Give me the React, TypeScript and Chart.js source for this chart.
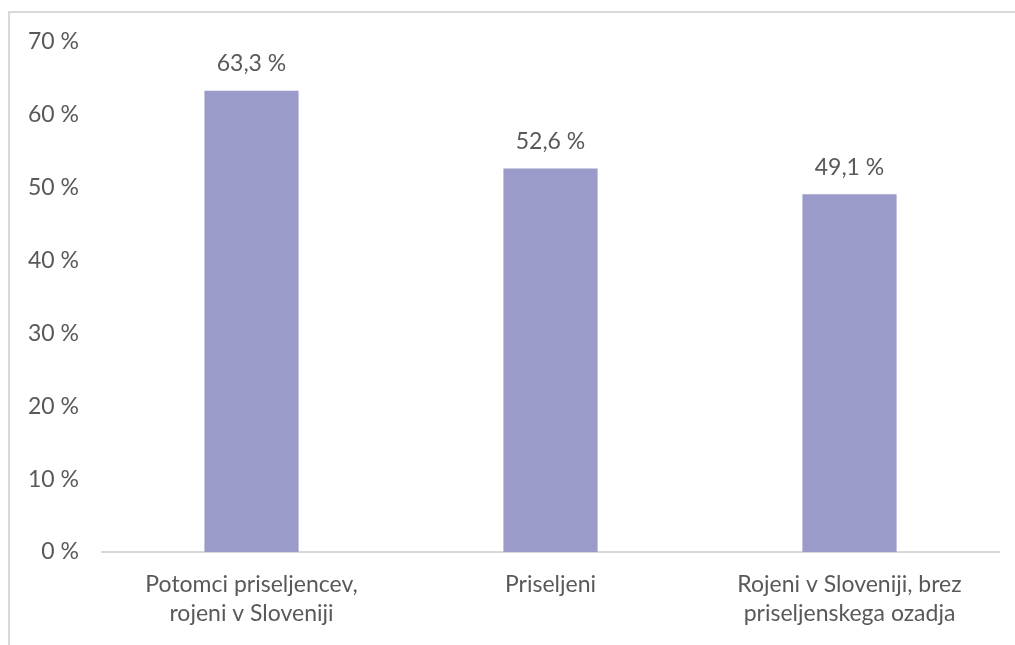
import React, { useEffect, useRef } from "react";
import { Chart, registerables } from "chart.js";

Chart.register(...registerables);

const categories: string[][] = [
  ["Potomci priseljencev,", "rojeni v Sloveniji"],
  ["Priseljeni"],
  ["Rojeni v Sloveniji, brez", "priseljenskega ozadja"],
];
const values: number[] = [63.3, 52.6, 49.1];
const yTicks: number[] = [0, 10, 20, 30, 40, 50, 60, 70];

const FONT = "Lato, 'Open Sans', sans-serif";
const TEXT = "#595959";
const FS = 23;

const fmt = (v: number) => v.toFixed(1).replace(".", ",") + " %";

const labelPlugin = {
  id: "valueLabels",
  afterDatasetsDraw(chart: any) {
    const ctx = chart.ctx;
    const meta = chart.getDatasetMeta(0);
    ctx.save();
    ctx.font = `${FS}px ${FONT}`;
    ctx.fillStyle = TEXT;
    ctx.textAlign = "center";
    ctx.textBaseline = "middle";
    meta.data.forEach((bar: any, i: number) => {
      ctx.fillText(fmt(values[i]), bar.x, bar.y - 27);
    });
    ctx.restore();
  },
};

export default function App() {
  const ref = useRef<HTMLCanvasElement>(null);
  useEffect(() => {
    if (!ref.current) return;
    const chart = new Chart(ref.current, {
      type: "bar",
      data: {
        labels: categories,
        datasets: [
          {
            data: values,
            backgroundColor: "#9a9bc8",
            categoryPercentage: 1,
            barPercentage: 0.315,
          },
        ],
      },
      options: {
        animation: false,
        responsive: false,
        maintainAspectRatio: false,
        layout: { padding: { top: 22, right: 16, bottom: 0, left: 0 } },
        plugins: { legend: { display: false }, tooltip: { enabled: false } },
        scales: {
          x: {
            grid: { display: false },
            border: { display: true, color: "#d9d9d9", width: 2 },
            ticks: {
              color: TEXT,
              font: { family: FONT, size: FS, lineHeight: 1.26 },
              padding: 10,
              maxRotation: 0,
              autoSkip: false,
            },
            afterFit: (s: any) => {
              s.height = 93;
            },
          },
          y: {
            min: 0,
            max: 70,
            afterBuildTicks: (s: any) => {
              s.ticks = yTicks.map((v) => ({ value: v }));
            },
            grid: { display: false },
            border: { display: false },
            ticks: {
              color: TEXT,
              font: { family: FONT, size: FS },
              padding: 15,
              callback: (v: any) => `${v} %`,
            },
            afterFit: (s: any) => {
              s.width = 92;
            },
          },
        },
      },
      plugins: [labelPlugin],
    });
    return () => chart.destroy();
  }, []);
  return (
    <div
      style={{
        position: "absolute",
        left: 8,
        top: 11,
        width: 1007,
        height: 634,
        borderTop: "2px solid #d9d9d9",
        borderLeft: "2px solid #d9d9d9",
        boxSizing: "border-box",
        background: "#fff",
      }}
    >
      <canvas ref={ref} width={1005} height={632} style={{ display: "block" }} />
    </div>
  );
}
